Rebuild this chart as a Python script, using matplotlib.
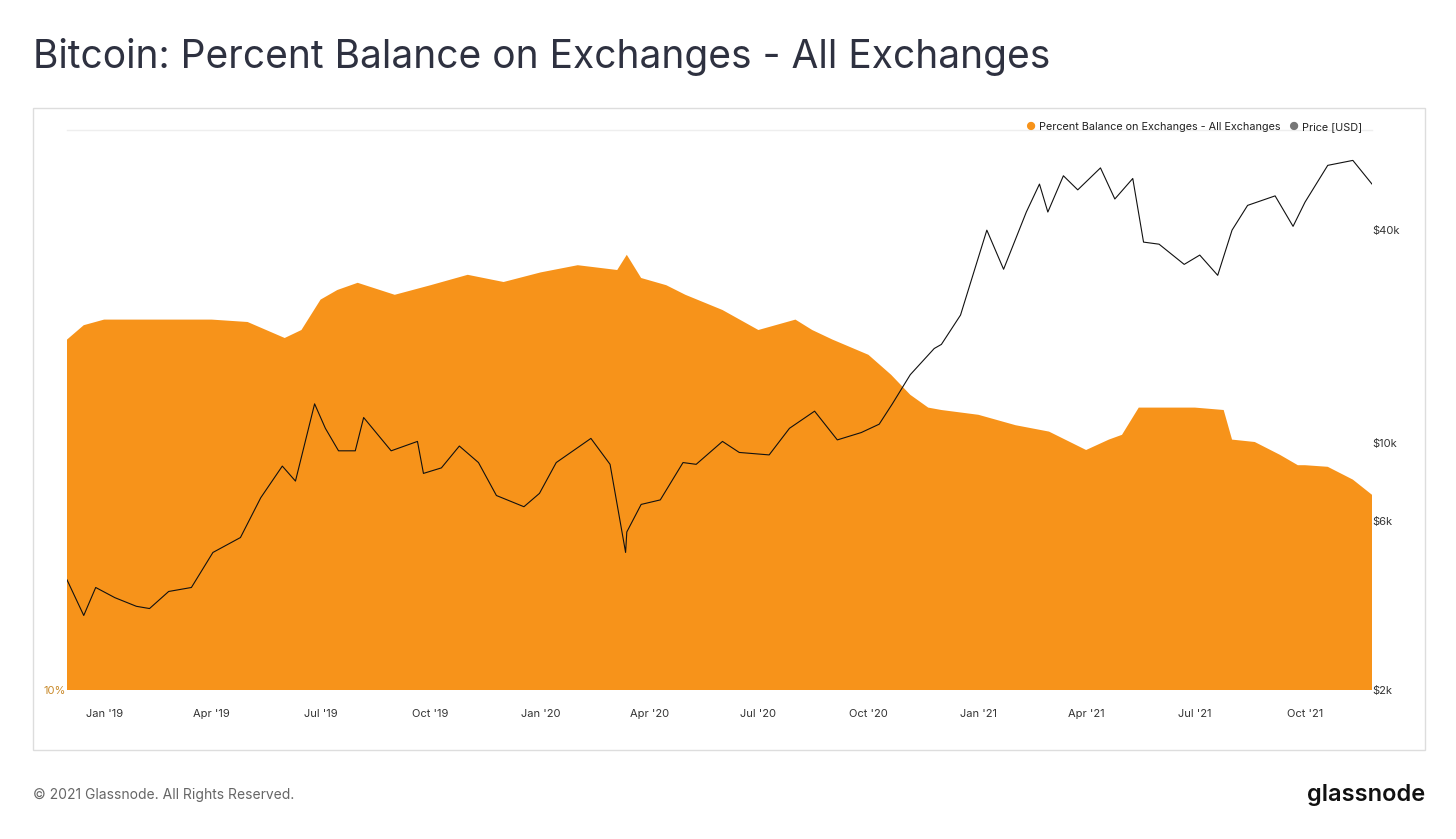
import matplotlib
matplotlib.use("Agg")
import matplotlib.pyplot as plt
import pandas as pd
from matplotlib.patches import Rectangle

price_dates = ["2018-12-01","2018-12-15","2018-12-25","2019-01-10","2019-01-28","2019-02-08","2019-02-24","2019-03-15",
 "2019-04-02","2019-04-25","2019-05-12","2019-05-30","2019-06-10","2019-06-26","2019-07-05","2019-07-16","2019-07-30",
 "2019-08-06","2019-08-29","2019-09-20","2019-09-25","2019-10-10","2019-10-25","2019-11-10","2019-11-25","2019-12-18",
 "2019-12-31","2020-01-14","2020-02-12","2020-02-28","2020-03-12","2020-03-13","2020-03-25","2020-04-10","2020-04-29",
 "2020-05-10","2020-06-01","2020-06-15","2020-07-10","2020-07-27","2020-08-17","2020-09-05","2020-09-25","2020-10-10",
 "2020-10-21","2020-11-05","2020-11-25","2020-12-01","2020-12-17","2021-01-08","2021-01-22","2021-02-10","2021-02-21",
 "2021-02-28","2021-03-13","2021-03-25","2021-04-13","2021-04-25","2021-05-10","2021-05-19","2021-06-01","2021-06-22",
 "2021-07-05","2021-07-20","2021-08-01","2021-08-14","2021-09-06","2021-09-21","2021-10-01","2021-10-20","2021-11-10","2021-11-26"]
price_values = [4100,3250,3900,3650,3450,3400,3800,3900,4900,5400,7000,8600,7800,12900,11000,9500,9500,11800,9500,10100,
 8200,8500,9800,8800,7100,6600,7200,8800,10300,8700,4900,5600,6700,6900,8800,8700,10100,9400,9250,11000,12300,10200,
 10700,11300,12900,15600,18500,19000,23000,40000,31000,45000,54000,45000,57000,52000,60000,49000,56000,37000,36500,
 32000,34000,29800,40000,47000,50000,41000,48000,61000,63000,54000]

pct_dates = ["2018-12-01","2018-12-15","2019-01-01","2019-04-01","2019-05-01","2019-06-01","2019-06-15","2019-07-01",
 "2019-07-15","2019-08-01","2019-09-01","2019-10-01","2019-11-01","2019-12-01","2020-01-01","2020-02-01","2020-03-05",
 "2020-03-13","2020-03-25","2020-04-15","2020-05-01","2020-06-01","2020-07-01","2020-08-01","2020-08-15","2020-09-01",
 "2020-10-01","2020-10-20","2020-11-05","2020-11-20","2020-12-01","2021-01-01","2021-02-01","2021-03-01","2021-04-01",
 "2021-04-20","2021-05-01","2021-05-15","2021-06-01","2021-07-01","2021-07-25","2021-08-01","2021-08-20","2021-09-10",
 "2021-09-25","2021-10-01","2021-10-20","2021-11-10","2021-11-26"]
pct_values = [14.38,14.56,14.63,14.63,14.6,14.4,14.5,14.88,15.0,15.09,14.94,15.06,15.19,15.1,15.22,15.31,15.25,15.44,
 15.15,15.06,14.94,14.75,14.5,14.63,14.5,14.38,14.19,13.94,13.69,13.53,13.5,13.44,13.31,13.23,13.0,13.13,13.19,13.53,
 13.53,13.53,13.5,13.13,13.1,12.94,12.81,12.81,12.79,12.63,12.44]

month_ticks = ["2019-01-01","2019-04-01","2019-07-01","2019-10-01","2020-01-01","2020-04-01","2020-07-01","2020-10-01",
 "2021-01-01","2021-04-01","2021-07-01","2021-10-01"]
month_labels = ["Jan '19","Apr '19","Jul '19","Oct '19","Jan '20","Apr '20","Jul '20","Oct '20","Jan '21","Apr '21","Jul '21","Oct '21"]
price_ticks = [2000, 6000, 10000, 40000]
price_tick_labels = ["$2k", "$6k", "$10k", "$40k"]

plt.rcParams['font.family'] = ['Inter', 'DejaVu Sans']
W, H = 1456, 839
fig = plt.figure(figsize=(W/100, H/100), dpi=100)
fig.patches.append(Rectangle((33/W, 1-750/H), (1425-33)/W, (750-108)/H, transform=fig.transFigure,
                             fill=False, edgecolor="#dddddd", lw=1))
ax = fig.add_axes([67/W, 1-690/H, (1372-67)/W, (690-130)/H])
ax.fill_between(pd.to_datetime(pct_dates), 0, pct_values, color="#f7931a", lw=0)
ax.set_ylim(10, 17)
ax.set_xlim(pd.Timestamp("2018-12-01"), pd.Timestamp("2021-11-26"))
for s in ax.spines.values():
    s.set_visible(False)
ax.set_yticks([10]); ax.set_yticklabels(["10%"], color="#c98a2b", fontsize=8)
ax.tick_params(axis='y', length=0, pad=1)
ax.set_xticks(pd.to_datetime(month_ticks)); ax.set_xticklabels(month_labels, fontsize=8, color="#333333")
ax.tick_params(axis='x', length=0, pad=14)
ax.axhline(17, color="#eeeeee", lw=1, clip_on=False)

ax2 = ax.twinx()
ax2.plot(pd.to_datetime(price_dates), price_values, color="#111111", lw=0.8)
ax2.set_yscale('log')
ax2.set_ylim(2000, 76800)
ax2.set_yticks(price_ticks); ax2.set_yticklabels(price_tick_labels, fontsize=8, color="#333333")
ax2.minorticks_off()
ax2.tick_params(axis='y', length=0, pad=0)
for s in ax2.spines.values():
    s.set_visible(False)

fig.text(33/W, 1-57/H, "Bitcoin: Percent Balance on Exchanges - All Exchanges", fontsize=28, color="#2e3140", va="center")
fig.text(1025/W, 1-127/H, "●", color="#f7931a", fontsize=8, va="center")
fig.text(1039/W, 1-127/H, "Percent Balance on Exchanges - All Exchanges", color="#222222", fontsize=7.8, va="center")
fig.text(1288/W, 1-127/H, "●", color="#777777", fontsize=8, va="center")
fig.text(1302/W, 1-127/H, "Price [USD]", color="#222222", fontsize=7.8, va="center")
fig.text(33/W, 1-795/H, "© 2021 Glassnode. All Rights Reserved.", fontsize=10, color="#666666", va="center")
fig.text(1425/W, 1-795/H, "glassnode", fontsize=17, color="#111111", va="center", ha="right", fontweight="semibold")
fig.savefig("out.png", dpi=100)
